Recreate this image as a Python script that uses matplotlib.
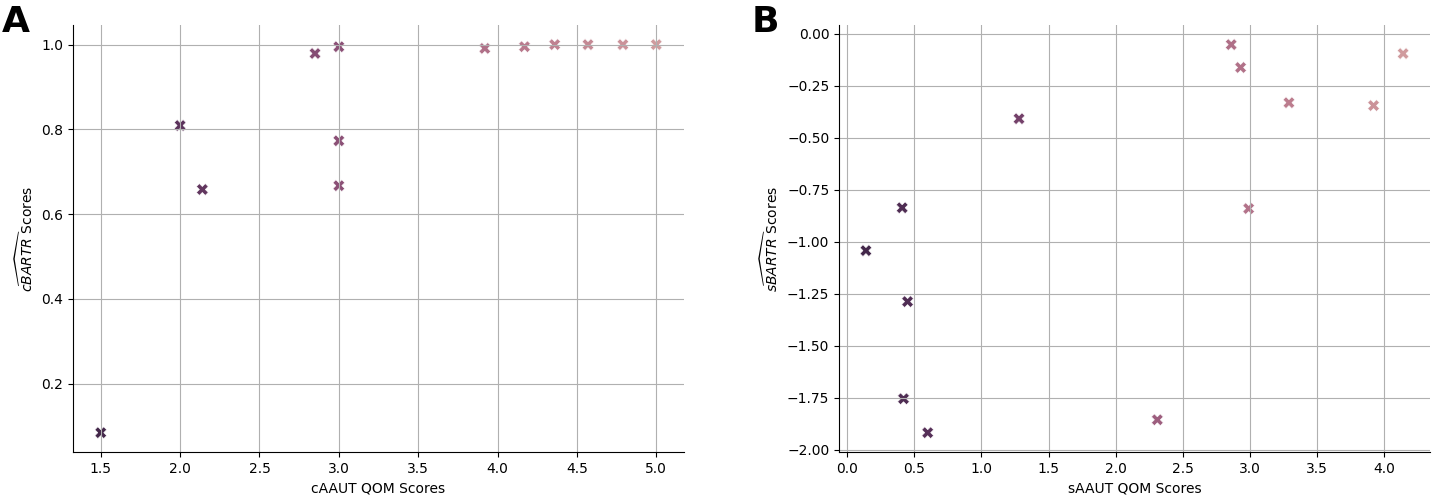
import matplotlib
matplotlib.use("Agg")
import matplotlib.pyplot as plt
import seaborn as sns
import numpy as np

# Panel A data
a_x = [1.5, 2.0, 2.14, 2.85, 3.0, 3.0, 3.0, 3.92, 4.17, 4.36, 4.57, 4.79, 5.0]
a_y = [0.084, 0.809, 0.658, 0.979, 0.995, 0.773, 0.667, 0.991, 0.995, 1.0, 1.0, 1.0, 1.0]

# Panel B data
b_x = [0.14, 0.41, 0.45, 0.42, 0.60, 1.28, 2.31, 2.86, 2.93, 2.99, 3.29, 3.92, 4.14]
b_y = [-1.043, -0.837, -1.288, -1.755, -1.918, -0.409, -1.856, -0.053, -0.163, -0.841, -0.332, -0.346, -0.096]

cmap = sns.cubehelix_palette(start=0.1, light=0.67, dark=0.2, hue=0.75, reverse=True, as_cmap=True)

fig = plt.figure(figsize=(14.37, 5.04), dpi=100)
axA = fig.add_axes([0.0508, 0.103, 0.4252, 0.847])
axB = fig.add_axes([0.5839, 0.103, 0.4112, 0.847])

for ax, x, y, xl, yl in [
    (axA, a_x, a_y, "cAAUT QOM Scores", r"$\widehat{cBARTR}$ Scores"),
    (axB, b_x, b_y, "sAAUT QOM Scores", r"$\widehat{sBARTR}$ Scores"),
]:
    ax.scatter(x, y, c=x, cmap=cmap, marker="X", s=72, edgecolors="white", linewidths=0.4)
    ax.grid(True, color="#b0b0b0", linewidth=0.8)
    ax.spines["top"].set_visible(False)
    ax.spines["right"].set_visible(False)
    ax.set_xlabel(xl)
    ax.set_ylabel(yl)

fig.text(0.001, 0.99, "A", fontsize=26, fontweight="bold", va="top", ha="left")
fig.text(0.523, 0.99, "B", fontsize=26, fontweight="bold", va="top", ha="left")

fig.savefig("out.png", dpi=100)
